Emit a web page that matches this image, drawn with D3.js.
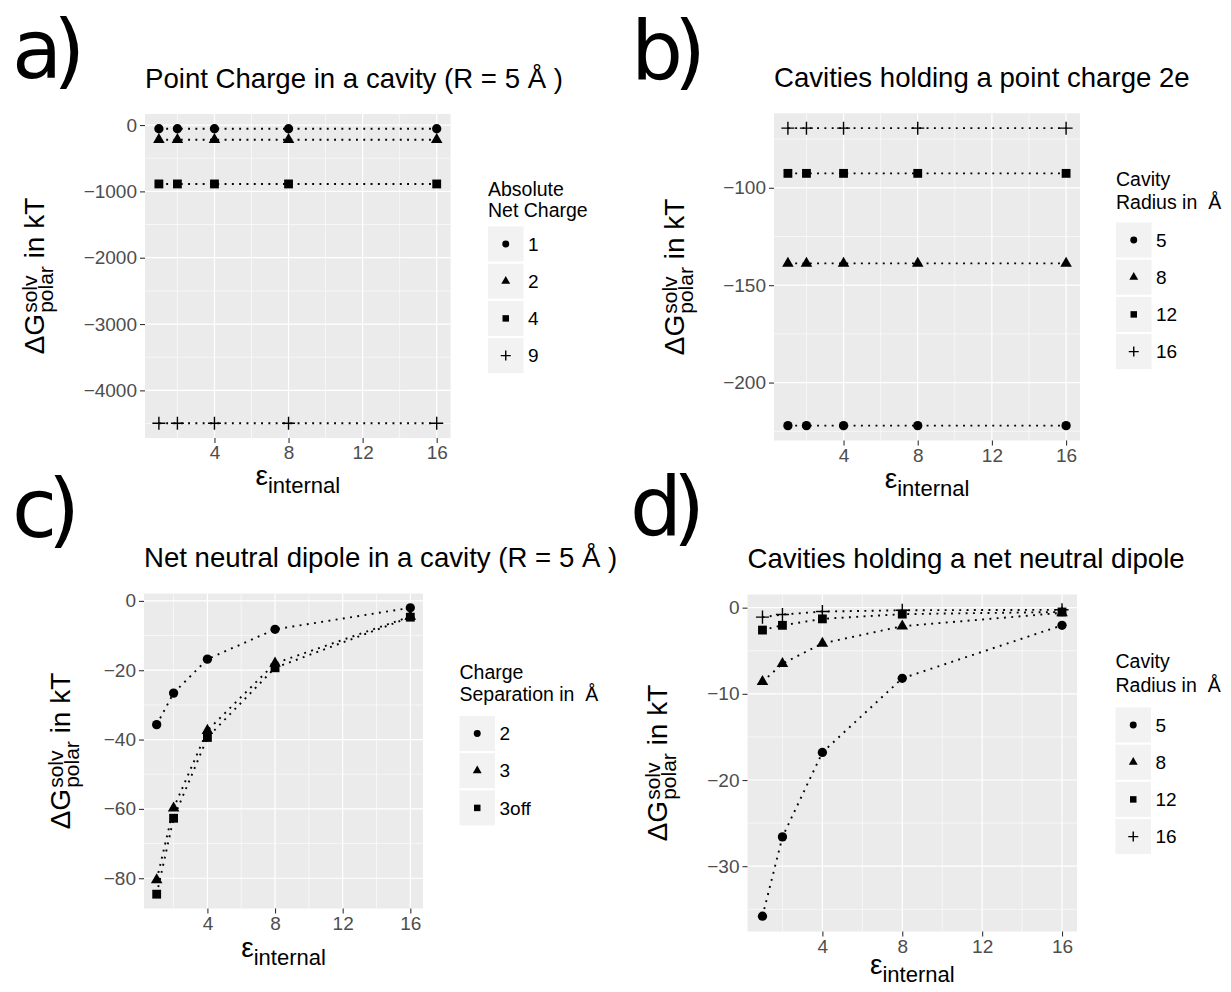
<!DOCTYPE html>
<html><head><meta charset="utf-8">
<script src="https://cdn.jsdelivr.net/npm/d3@7"></script>
<style>
body{margin:0;background:#fff}
svg text{font-family:"Liberation Sans",Arial,Helvetica,sans-serif;white-space:pre}
</style>
</head><body>
<svg id="fig" width="1231" height="992"></svg>
<script>
// ---------------- DATA ----------------
const epsInternal = [1, 2, 4, 8, 16];
const xTickValues = [4, 8, 12, 16];
const xMinorValues = [2, 6, 10, 14];

// a) point charge in a cavity (R = 5 Å)
const chargeLabels = ["1", "2", "4", "9"];
const chargeQ1 = [-55.5, -55.5, -55.5, -55.5, -55.5];
const chargeQ2 = [-222, -222, -222, -222, -222];
const chargeQ4 = [-888, -888, -888, -888, -888];
const chargeQ9 = [-4496, -4496, -4496, -4496, -4496];
const yTicksA = [0, -1000, -2000, -3000, -4000];
const yMinorA = [-500, -1500, -2500, -3500, -4500];

// b) cavities holding a point charge 2e
const radiusLabelsB = ["5", "8", "12", "16"];
const pcR5 = [-222.1, -222.1, -222.1, -222.1, -222.1];
const pcR8 = [-138.8, -138.8, -138.8, -138.8, -138.8];
const pcR12 = [-92.6, -92.6, -92.6, -92.6, -92.6];
const pcR16 = [-69.4, -69.4, -69.4, -69.4, -69.4];
const yTicksB = [-100, -150, -200];
const yMinorB = [-75, -125, -175, -225];

// c) net neutral dipole in a cavity (R = 5 Å)
const separationLabels = ["2", "3", "3off"];
const dipSep2 = [-35.7, -26.6, -16.8, -8.2, -2.0];
const dipSep3 = [-80.5, -59.8, -37.4, -18.0, -4.5];
const dipSep3off = [-84.6, -62.7, -39.4, -19.3, -4.7];
const yTicksC = [0, -20, -40, -60, -80];
const yMinorC = [-10, -30, -50, -70];

// d) cavities holding a net neutral dipole
const radiusLabelsD = ["5", "8", "12", "16"];
const dipR5 = [-35.8, -26.6, -16.8, -8.2, -2.05];
const dipR8 = [-8.6, -6.5, -4.15, -2.15, -0.6];
const dipR12 = [-2.6, -2.05, -1.3, -0.75, -0.5];
const dipR16 = [-1.1, -0.8, -0.45, -0.3, -0.25];
const yTicksD = [0, -10, -20, -30];
const yMinorD = [-5, -15, -25, -35];

const shapeOrder = ["circle", "triangle", "square", "plus"];

// ---------------- LAYOUT ----------------
const panels = [
  { tag: "a)", tagX: 12, tagY: 78, title: "Point Charge in a cavity (R = 5 Å )",
    x0: 145, x1: 450.6, y0: 114, y1: 438, yTitleX: 44, xTitleOff: 47,
    series: [chargeQ1, chargeQ2, chargeQ4, chargeQ9], labels: chargeLabels,
    yTicks: yTicksA, yMinor: yMinorA,
    legTitle: ["Absolute", "Net Charge"], legX: 488, legTitleY: 195.5, legLineGap: 21.8, keyTop: 226.5 },
  { tag: "b)", tagX: 631, tagY: 79, title: "Cavities holding a point charge 2e",
    x0: 774, x1: 1080, y0: 113.3, y1: 440.5, yTitleX: 684, xTitleOff: 47,
    series: [pcR5, pcR8, pcR12, pcR16], labels: radiusLabelsB,
    yTicks: yTicksB, yMinor: yMinorB,
    legTitle: ["Cavity", "Radius in  Å"], legX: 1116, legTitleY: 186, legLineGap: 23, keyTop: 222.5 },
  { tag: "c)", tagX: 12, tagY: 537, title: "Net neutral dipole in a cavity (R = 5 Å )",
    x0: 144, x1: 423, y0: 593.5, y1: 908.5, yTitleX: 70, xTitleOff: 48,
    series: [dipSep2, dipSep3, dipSep3off], labels: separationLabels,
    yTicks: yTicksC, yMinor: yMinorC,
    legTitle: ["Charge", "Separation in  Å"], legX: 459.5, legTitleY: 678.5, legLineGap: 22.3, keyTop: 716 },
  { tag: "d)", tagX: 630, tagY: 535, title: "Cavities holding a net neutral dipole",
    x0: 747.5, x1: 1077, y0: 594.5, y1: 931.5, yTitleX: 667, xTitleOff: 42,
    series: [dipR5, dipR8, dipR12, dipR16], labels: radiusLabelsD,
    yTicks: yTicksD, yMinor: yMinorD,
    legTitle: ["Cavity", "Radius in  Å"], legX: 1115.5, legTitleY: 668, legLineGap: 23.5, keyTop: 707.5 }
];

const svg = d3.select("#fig");

const plusType = {
  draw(ctx, size) {
    const r = Math.sqrt(size) / 2;
    ctx.moveTo(-r, 0); ctx.lineTo(r, 0);
    ctx.moveTo(0, -r); ctx.lineTo(0, r);
  }
};
function symbolPath(shape, big) {
  const s = big
    ? { circle: 68, triangle: 58, square: 78, plus: 170 }
    : { circle: 38, triangle: 34, square: 42, plus: 100 };
  const type = { circle: d3.symbolCircle, triangle: d3.symbolTriangle, square: d3.symbolSquare, plus: plusType }[shape];
  return d3.symbol().type(type).size(s[shape])();
}
function drawSymbol(g, shape, x, y, big) {
  const p = g.append("path").attr("d", symbolPath(shape, big)).attr("transform", `translate(${x},${y})`);
  if (shape === "plus") p.attr("fill", "none").attr("stroke", "#000").attr("stroke-width", 1.4);
  else p.attr("fill", "#000");
}

function expandDomain(series) {
  const all = series.flat();
  const lo = d3.min(all), hi = d3.max(all), pad = (hi - lo) * 0.05;
  return [lo - pad, hi + pad];
}

panels.forEach(P => {
  const g = svg.append("g");
  const xs = d3.extent(epsInternal);
  const xPad = (xs[1] - xs[0]) * 0.05;
  const x = d3.scaleLinear().domain([xs[0] - xPad, xs[1] + xPad]).range([P.x0, P.x1]);
  const y = d3.scaleLinear().domain(expandDomain(P.series)).range([P.y1, P.y0]);

  // panel tag
  g.append("text").attr("x", P.tagX).attr("y", P.tagY)
    .style("font-family", "'DejaVu Sans','Open Sans',sans-serif")
    .style("letter-spacing", "-9px")
    .attr("font-size", 82).attr("fill", "#000").text(P.tag);

  // title
  g.append("text").attr("x", P.x0).attr("y", P.y0 - 26.5)
    .attr("font-size", 27.6).attr("fill", "#000").text(P.title);

  // panel background
  g.append("rect").attr("x", P.x0).attr("y", P.y0)
    .attr("width", P.x1 - P.x0).attr("height", P.y1 - P.y0).attr("fill", "#ebebeb");

  // grid
  const grid = g.append("g").attr("stroke", "#fff");
  P.yMinor.forEach(v => grid.append("line").attr("x1", P.x0).attr("x2", P.x1)
    .attr("y1", y(v)).attr("y2", y(v)).attr("stroke-width", 0.6));
  xMinorValues.forEach(v => grid.append("line").attr("y1", P.y0).attr("y2", P.y1)
    .attr("x1", x(v)).attr("x2", x(v)).attr("stroke-width", 0.6));
  P.yTicks.forEach(v => grid.append("line").attr("x1", P.x0).attr("x2", P.x1)
    .attr("y1", y(v)).attr("y2", y(v)).attr("stroke-width", 1.2));
  xTickValues.forEach(v => grid.append("line").attr("y1", P.y0).attr("y2", P.y1)
    .attr("x1", x(v)).attr("x2", x(v)).attr("stroke-width", 1.2));

  // axes
  const ax = g.append("g").attr("transform", `translate(${P.x0},0)`)
    .call(d3.axisLeft(y).tickValues(P.yTicks).tickFormat(d3.format("d")).tickSize(5).tickPadding(3));
  const bx = g.append("g").attr("transform", `translate(0,${P.y1})`)
    .call(d3.axisBottom(x).tickValues(xTickValues).tickFormat(d3.format("d")).tickSize(5).tickPadding(3));
  [ax, bx].forEach(a => {
    a.select(".domain").remove();
    a.selectAll(".tick line").attr("stroke", "#333").attr("stroke-width", 1.1);
    a.selectAll(".tick text").attr("fill", "#4d4d4d").attr("font-size", 19)
      .style("font-family", "'Liberation Sans',Arial,sans-serif");
  });

  // lines and points
  const line = d3.line().x((d, i) => x(epsInternal[i])).y(d => y(d));
  P.series.forEach((s, k) => {
    g.append("path").attr("d", line(s)).attr("fill", "none").attr("stroke", "#000")
      .attr("stroke-width", 1.9).attr("stroke-dasharray", "1.9,5.4");
  });
  P.series.forEach((s, k) => {
    s.forEach((v, i) => drawSymbol(g, shapeOrder[k], x(epsInternal[i]), y(v), true));
  });

  // y axis title
  const yt = g.append("g").attr("transform", `translate(${P.yTitleX},${(P.y0 + P.y1) / 2}) rotate(-90)`);
  const inner = yt.append("g");
  const t1 = inner.append("text").attr("font-size", 28).text("ΔG");
  const w1 = t1.node().getComputedTextLength();
  const sup = inner.append("text").attr("x", w1 + 1).attr("y", -7).attr("font-size", 21).text("solv");
  const sub = inner.append("text").attr("x", w1 + 1).attr("y", 9).attr("font-size", 21).text("polar");
  const w2 = Math.max(sup.node().getComputedTextLength(), sub.node().getComputedTextLength()) + 1;
  const t3 = inner.append("text").attr("x", w1 + w2).attr("font-size", 28).text(" in kT");
  const w3 = t3.node().getComputedTextLength();
  inner.attr("transform", `translate(${-(w1 + w2 + w3) / 2},0)`);

  // x axis title
  const xt = g.append("g");
  const e1 = xt.append("text").attr("font-size", 28).text("ε");
  const we = e1.node().getComputedTextLength();
  const e2 = xt.append("text").attr("x", we).attr("y", 8).attr("font-size", 22).text("internal");
  const wi = e2.node().getComputedTextLength();
  xt.attr("transform", `translate(${(P.x0 + P.x1) / 2 - (we + wi) / 2},${P.y1 + P.xTitleOff})`);

  // legend
  const lg = g.append("g");
  P.legTitle.forEach((t, i) => lg.append("text").attr("x", P.legX).attr("y", P.legTitleY + i * P.legLineGap)
    .attr("font-size", 19.5).attr("fill", "#000").text(t));
  P.labels.forEach((lab, i) => {
    const ky = P.keyTop + i * 37.2;
    lg.append("rect").attr("x", P.legX).attr("y", ky).attr("width", 35.5).attr("height", 35)
      .attr("fill", "#f2f2f2");
    drawSymbol(lg, shapeOrder[i], P.legX + 17.75, ky + 17.5, false);
    lg.append("text").attr("x", P.legX + 40).attr("y", ky + 17.5).attr("dy", "0.35em")
      .attr("font-size", 19).attr("fill", "#000").text(lab);
  });
});
</script>
</body></html>
